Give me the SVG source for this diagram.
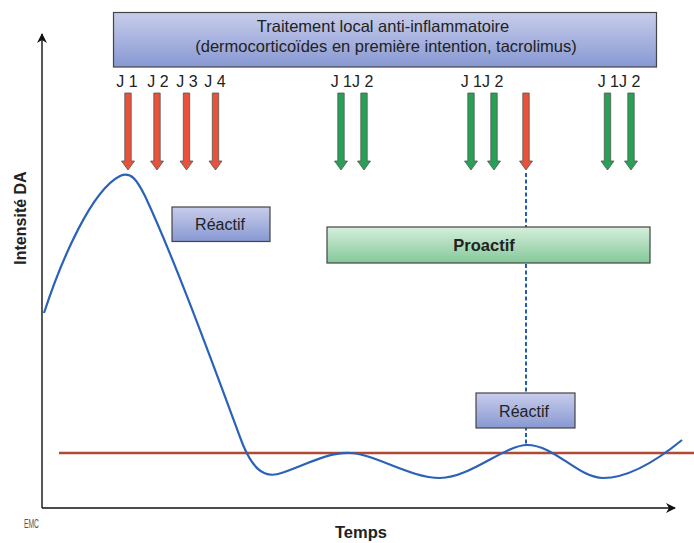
<svg xmlns="http://www.w3.org/2000/svg" width="694" height="543" viewBox="0 0 694 543">
<defs>
<linearGradient id="gBlue" x1="0" y1="0" x2="0" y2="1">
<stop offset="0" stop-color="#c8cdeb"/>
<stop offset="1" stop-color="#8798d2"/>
</linearGradient>
<linearGradient id="gGreen" x1="0" y1="0" x2="0" y2="1">
<stop offset="0" stop-color="#d6eedb"/>
<stop offset="1" stop-color="#84c89a"/>
</linearGradient>
<marker id="axArrow" viewBox="0 0 10 10" refX="9" refY="5" markerWidth="10" markerHeight="10" markerUnits="userSpaceOnUse" orient="auto">
<path d="M0,0 L10,5 L0,10 L3,5 Z" fill="#111"/>
</marker>
<path id="dArrow" d="M-3.2,0 L3.2,0 L3.2,68 L6.5,68 L0,77 L-6.5,68 L-3.2,68 Z"/>
</defs>
<style>
text{font-family:"Liberation Sans",Arial,sans-serif;fill:#222}
.box{stroke:#444;stroke-width:1.2}
.lbl{font-size:16px;text-anchor:middle}
.top{font-size:16.5px;text-anchor:middle}
.j{font-size:16px;text-anchor:middle;fill:#222}
.red{fill:#e8523b;stroke:#555;stroke-width:0.8}
.green{fill:#27a155;stroke:#555;stroke-width:0.8}
.axis{stroke:#111;stroke-width:1.4;fill:none}
</style>
<rect width="694" height="543" fill="#fff"/>

<g id="axes">
<line class="axis" x1="42" y1="508" x2="42" y2="34" marker-end="url(#axArrow)"/>
<line class="axis" x1="42" y1="508" x2="675" y2="508" marker-end="url(#axArrow)"/>
<text x="20" y="218" transform="rotate(-90 20 218)" style="font-size:16px;font-weight:bold;text-anchor:middle" dy="6">Intensité DA</text>
<text x="361" y="538" style="font-size:16.5px;font-weight:bold;text-anchor:middle">Temps</text>
<text x="24" y="528" style="font-size:12px;fill:#555" textLength="15" lengthAdjust="spacingAndGlyphs">EMC</text>
</g>

<g id="treatment">
<rect class="box" x="113.5" y="12.5" width="543" height="54.5" fill="url(#gBlue)"/>
<text class="top" x="383" y="31.5">Traitement local anti-inflammatoire</text>
<text class="top" x="386" y="52">(dermocorticoïdes en première intention, tacrolimus)</text>
</g>

<g id="labels">
<text class="j" x="127" y="87">J 1</text>
<text class="j" x="158" y="87">J 2</text>
<text class="j" x="187" y="87">J 3</text>
<text class="j" x="215" y="87">J 4</text>
<text class="j" x="352" y="87">J 1J 2</text>
<text class="j" x="482" y="87">J 1J 2</text>
<text class="j" x="619" y="87">J 1J 2</text>
</g>

<g id="arrows">
<use href="#dArrow" class="red" x="128" y="93"/>
<use href="#dArrow" class="red" x="157" y="93"/>
<use href="#dArrow" class="red" x="186.5" y="93"/>
<use href="#dArrow" class="red" x="215.5" y="93"/>
<use href="#dArrow" class="green" x="341" y="93"/>
<use href="#dArrow" class="green" x="364" y="93"/>
<use href="#dArrow" class="green" x="471" y="93"/>
<use href="#dArrow" class="green" x="494" y="93"/>
<use href="#dArrow" class="red" x="526" y="93"/>
<use href="#dArrow" class="green" x="607.5" y="93"/>
<use href="#dArrow" class="green" x="631" y="93"/>
</g>

<g id="connectors">
<line x1="526" y1="173" x2="526" y2="445" stroke="#1f5db3" stroke-width="2" stroke-dasharray="4,2.5"/>
<line x1="59" y1="453" x2="694" y2="453" stroke="#b04a35" stroke-width="2.5"/>
<path d="M44,313 C62,258 92,190 120,176 C131,171 137,180 145,196 C175,260 215,370 243,445 C252,466 262,478 278,474 C300,468 325,452 350,453 C375,454 410,478 440,478 C470,478 505,445 527,445 C555,445 578,478 603,478 C630,478 660,458 682,440" fill="none" stroke="#2a62b8" stroke-width="2.2"/>
</g>

<g id="reactif1">
<rect class="box" x="172" y="207" width="98" height="34.5" fill="url(#gBlue)"/>
<text class="lbl" x="220" y="230">Réactif</text>
</g>

<g id="proactif">
<rect class="box" x="327" y="227" width="323" height="36" fill="url(#gGreen)"/>
<text class="lbl" x="484" y="251" style="font-weight:bold;font-size:16.5px">Proactif</text>
</g>

<g id="reactif2">
<rect class="box" x="476" y="393" width="99" height="35" fill="url(#gBlue)"/>
<text class="lbl" x="524" y="417">Réactif</text>
</g>
</svg>
